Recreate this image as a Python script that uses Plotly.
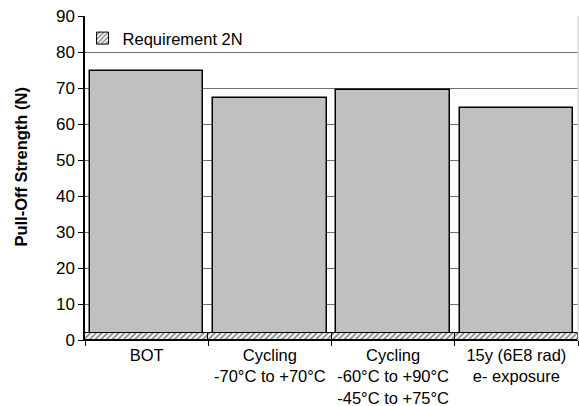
import plotly.graph_objects as go

categories = ["BOT", "Cycling<br>-70°C to +70°C", "Cycling<br>-60°C to +90°C<br>-45°C to +75°C", "15y (6E8 rad)<br>e- exposure"]
pull_off = [74.8, 67.3, 69.5, 64.5]
requirement = [2, 2, 2, 2]
y_ticks = [0, 10, 20, 30, 40, 50, 60, 70, 80, 90]

fig = go.Figure()
fig.add_trace(go.Bar(
    x=categories, y=pull_off, width=0.92, showlegend=False,
    marker=dict(color="#C0C0C0", line=dict(color="black", width=1.5)),
))
fig.add_trace(go.Bar(
    x=categories, y=requirement, width=1.0, name="Requirement 2N",
    marker=dict(color="white", line=dict(color="black", width=1),
                pattern=dict(shape="/", fgcolor="black", bgcolor="white", size=4, solidity=0.45)),
))

fig.update_layout(
    width=579, height=406,
    margin=dict(l=85, r=1, t=16, b=66),
    paper_bgcolor="white", plot_bgcolor="white",
    barmode="overlay", bargap=0,
    font=dict(family="Liberation Sans, Arial", size=16, color="black"),
    legend=dict(x=-0.005, y=0.985, xanchor="left", yanchor="top",
                bgcolor="rgba(0,0,0,0)", font=dict(size=16.5),
                itemwidth=30, tracegroupgap=0),
)
fig.update_xaxes(
    range=[-0.5, 3.5], showline=True, linecolor="black", linewidth=1,
    ticks="outside", tickson="boundaries", ticklen=5, tickcolor="black",
    showgrid=False, tickfont=dict(size=16.5), automargin=False,
    ticklabelstandoff=0,
)
fig.update_yaxes(
    range=[0, 90.03], tickvals=y_ticks, showline=True, linecolor="black", linewidth=1.5,
    ticks="outside", ticklen=5, tickcolor="black",
    showgrid=True, gridcolor="#707070", gridwidth=1,
    tickfont=dict(size=17), zeroline=False, automargin=False,
)
fig.add_annotation(
    text="<b>Pull-Off Strength (N)</b>", textangle=-90,
    xref="paper", yref="paper", x=-0.13, y=0.535, xanchor="center", yanchor="middle",
    showarrow=False, font=dict(size=16.5),
)
fig.add_shape(type="line", xref="paper", yref="paper", x0=1, x1=1, y0=0, y1=1,
              line=dict(color="#C8C8C8", width=1))

fig.write_html("out.html", config={"displayModeBar": False},
               post_script="document.body.style.margin='0';")
